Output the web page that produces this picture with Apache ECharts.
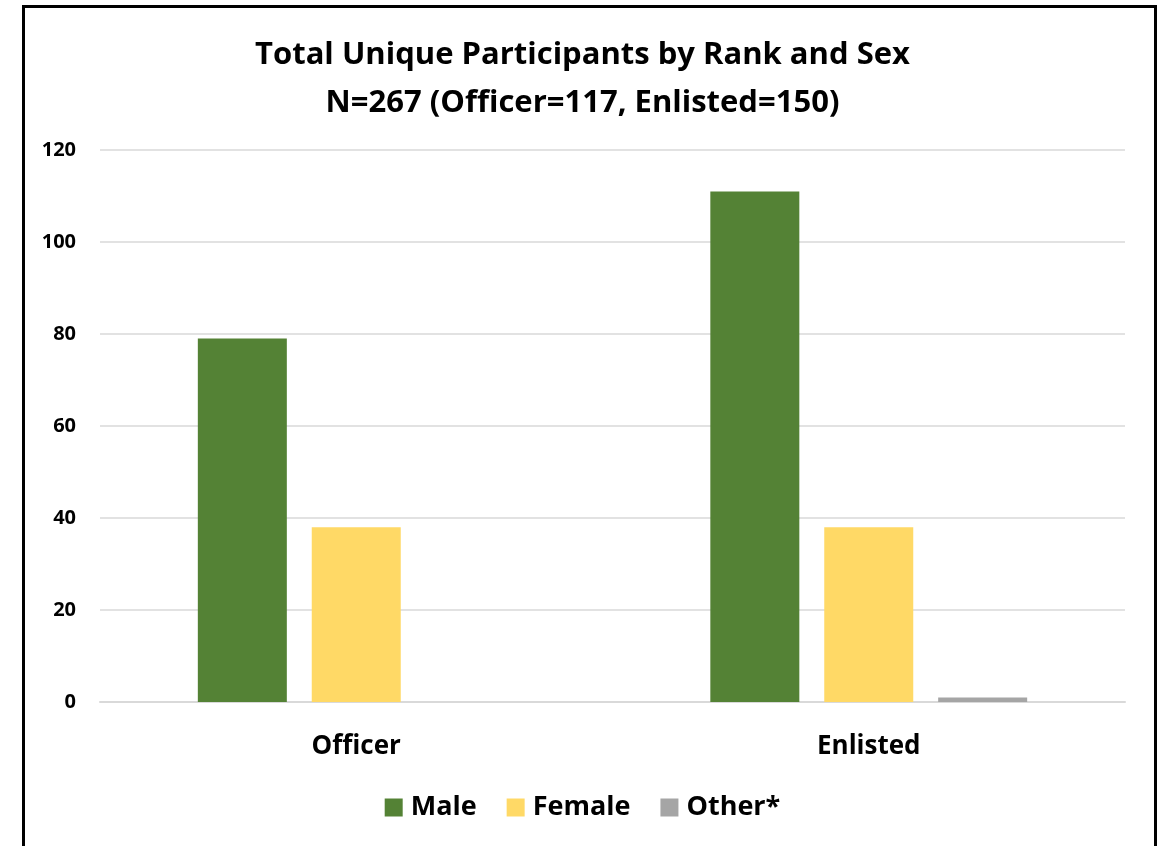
<!DOCTYPE html>
<html>
<head>
<meta charset="utf-8">
<script src="https://cdn.jsdelivr.net/npm/echarts@6/dist/echarts.min.js"></script>
<style>
html,body{margin:0;padding:0;background:#fff;}
#chart{width:1165px;height:846px;}
#frame{position:absolute;left:22px;top:5px;width:1129px;height:900px;border:3px solid #000;pointer-events:none;}
</style>
</head>
<body>
<div id="chart"></div>
<div id="frame"></div>
<script>
const categories = ['Officer', 'Enlisted'];
const seriesNames = ['Male', 'Female', 'Other*'];
const maleValues = [79, 111];
const femaleValues = [38, 38];
const otherValues = [0, 1];
const yTicks = [0, 20, 40, 60, 80, 100, 120];

const FONT = 'Open Sans';
const colors = ['#548235', '#FFD966', '#A5A5A5'];
const chart = echarts.init(document.getElementById('chart'));
const dataSets = [maleValues, femaleValues, otherValues];
chart.setOption({
  animation: false,
  title: {
    text: 'Total Unique Participants by Rank and Sex\nN=267 (Officer=117, Enlisted=150)',
    left: 'center',
    top: 26,
    textStyle: {fontFamily: FONT, fontWeight: 'bold', fontSize: 31, color: '#000', lineHeight: 48}
  },
  legend: {
    data: seriesNames,
    left: 'center',
    top: 789,
    itemWidth: 18,
    itemHeight: 18,
    itemGap: 30,
    icon: 'rect',
    textStyle: {fontFamily: FONT, fontWeight: 'bold', fontSize: 27, color: '#000', padding: [0, 0, 0, 3]}
  },
  grid: {left: 100, right: 40, top: 150, bottom: 144, containLabel: false},
  xAxis: {
    type: 'category',
    data: categories,
    axisLine: {lineStyle: {color: '#d9d9d9', width: 2}},
    axisTick: {show: false},
    axisLabel: {fontFamily: FONT, fontWeight: 'bold', fontSize: 26, color: '#000', margin: 32}
  },
  yAxis: {
    type: 'value',
    min: yTicks[0],
    max: yTicks[yTicks.length - 1],
    interval: 20,
    axisLine: {show: false},
    axisTick: {show: false},
    splitLine: {lineStyle: {color: '#d9d9d9', width: 1.5}},
    axisLabel: {fontFamily: FONT, fontWeight: 'bold', fontSize: 20, color: '#000', margin: 24}
  },
  series: seriesNames.map((n, i) => ({
    name: n,
    type: 'bar',
    data: dataSets[i],
    barWidth: 89,
    barGap: '28%',
    itemStyle: {color: colors[i]}
  }))
});
</script>
</body>
</html>
